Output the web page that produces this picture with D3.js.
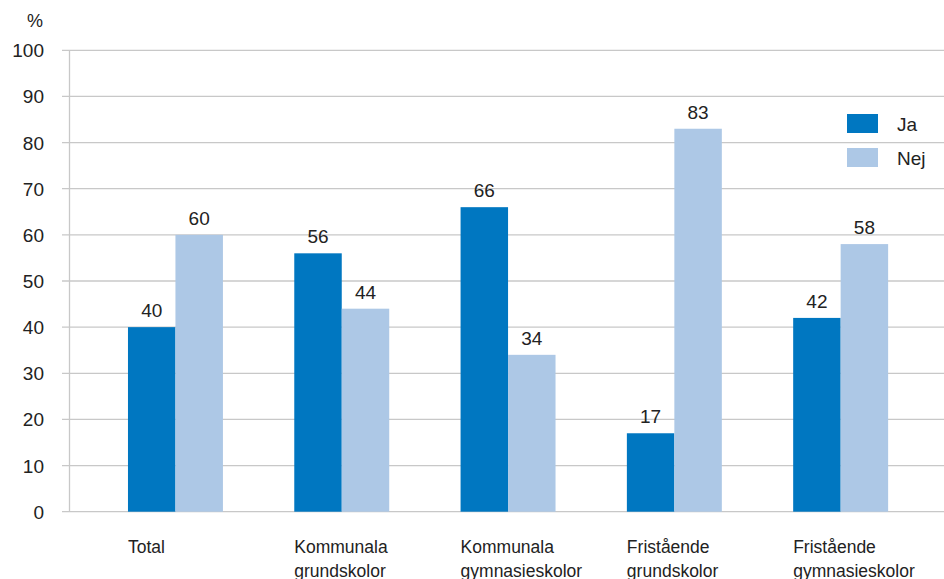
<!DOCTYPE html>
<html>
<head>
<meta charset="utf-8">
<script src="https://cdn.jsdelivr.net/npm/d3@7"></script>
<style>
  body { margin: 0; background: #fff; }
  text { font-family: "Liberation Sans Narrow", "Arial Narrow", "Liberation Sans", sans-serif; fill: #222; }
</style>
</head>
<body>
<div id="chart"></div>
<script>
const categories = [
  ["Total"],
  ["Kommunala", "grundskolor"],
  ["Kommunala", "gymnasieskolor"],
  ["Fristående", "grundskolor"],
  ["Fristående", "gymnasieskolor"]
];
const seriesNames = ["Ja", "Nej"];
const jaValues = [40, 56, 66, 17, 42];
const nejValues = [60, 44, 34, 83, 58];
const yTicks = [0, 10, 20, 30, 40, 50, 60, 70, 80, 90, 100];

const colors = { Ja: "#0077c1", Nej: "#adc8e6" };

const width = 944, height = 579;

const svg = d3.select("#chart").append("svg")
  .attr("width", width)
  .attr("height", height);

const keys = categories.map(c => c.join(" "));
const data = keys.map((k, i) => ({ key: k, lines: categories[i], Ja: jaValues[i], Nej: nejValues[i] }));

const y = d3.scaleLinear().domain([0, 100]).range([511.7, 50.3]);

const x0 = d3.scaleBand()
  .domain(keys)
  .range([92.3, 923.8])
  .paddingInner(0.429)
  .paddingOuter(0.2145);

const x1 = d3.scaleBand()
  .domain(seriesNames)
  .range([0, x0.bandwidth()]);

// gridlines
svg.append("g")
  .selectAll("line")
  .data(yTicks)
  .join("line")
  .attr("x1", 62)
  .attr("x2", width)
  .attr("y1", d => y(d))
  .attr("y2", d => y(d))
  .attr("stroke", "#c8c8c8")
  .attr("stroke-width", 1.3);

// y axis line
svg.append("line")
  .attr("x1", 69.5).attr("x2", 69.5)
  .attr("y1", y(100)).attr("y2", y(0))
  .attr("stroke", "#c8c8c8")
  .attr("stroke-width", 1.3);

// y tick labels
svg.append("g")
  .selectAll("text")
  .data(yTicks)
  .join("text")
  .attr("x", 44)
  .attr("y", d => y(d) + 7)
  .attr("text-anchor", "end")
  .style("font-size", "19px")
  .text(d => d);

svg.append("text")
  .attr("x", 43)
  .attr("y", 27)
  .attr("text-anchor", "end")
  .style("font-size", "18px")
  .text("%");

// bars
const groups = svg.append("g")
  .selectAll("g")
  .data(data)
  .join("g")
  .attr("transform", d => `translate(${x0(d.key)},0)`);

groups.selectAll("rect")
  .data(d => seriesNames.map(s => ({ s, v: d[s] })))
  .join("rect")
  .attr("x", d => x1(d.s))
  .attr("width", x1.bandwidth())
  .attr("y", d => y(d.v))
  .attr("height", d => y(0) - y(d.v))
  .attr("fill", d => colors[d.s]);

groups.selectAll("text.val")
  .data(d => seriesNames.map(s => ({ s, v: d[s] })))
  .join("text")
  .attr("class", "val")
  .attr("x", d => x1(d.s) + x1.bandwidth() / 2)
  .attr("y", d => y(d.v) - 10)
  .attr("text-anchor", "middle")
  .style("font-size", "19px")
  .text(d => d.v);

// category labels
groups.append("text")
  .attr("x", 0)
  .attr("y", 553)
  .style("font-size", "17.5px")
  .selectAll("tspan")
  .data(d => d.lines)
  .join("tspan")
  .attr("x", 0)
  .attr("dy", (d, i) => i === 0 ? 0 : 24)
  .text(d => d);

// legend
const legend = svg.append("g")
  .selectAll("g")
  .data(seriesNames)
  .join("g")
  .attr("transform", (d, i) => `translate(847,${114 + i * 34})`);

legend.append("rect")
  .attr("width", 31)
  .attr("height", 19)
  .attr("fill", d => colors[d]);

legend.append("text")
  .attr("x", 50)
  .attr("y", 17)
  .style("font-size", "19px")
  .text(d => d);
</script>
</body>
</html>
